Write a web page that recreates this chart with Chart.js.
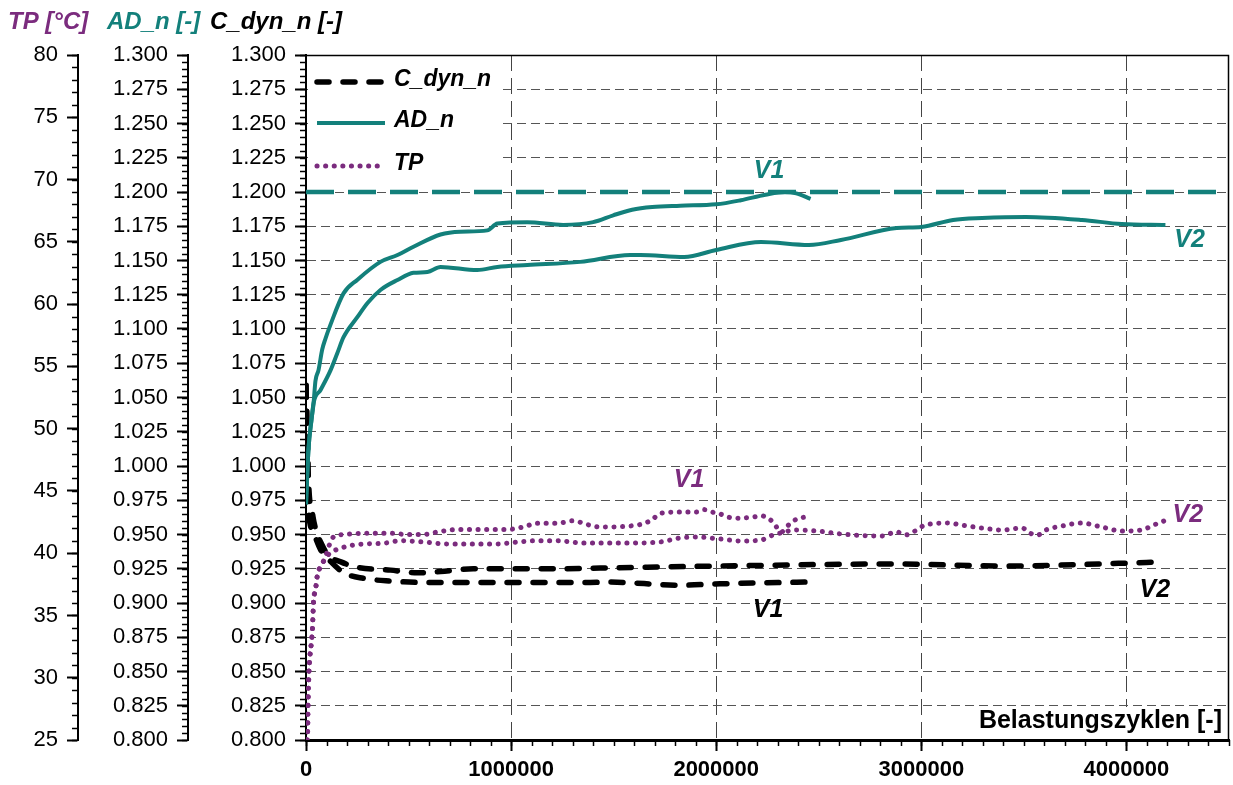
<!DOCTYPE html>
<html><head><meta charset="utf-8">
<script src="https://cdn.jsdelivr.net/npm/chart.js@4.4.1/dist/chart.umd.min.js"></script>
<style>html,body{margin:0;padding:0;background:#fff}#wrap{width:1233px;height:785px;position:relative}</style>
</head><body><div id="wrap"><canvas id="c" width="1233" height="785"></canvas></div>
<script>
const TEAL = '#13807b', PURPLE = '#7b2c7e', BLACK = '#000000';
const FONT = "'Liberation Sans', Arial, sans-serif";

// ---- data (x = Belastungszyklen) ----
const adV1X = [0, 12000, 27000, 37000, 46000, 61000, 79000, 95000, 119000, 183000, 251000, 363000, 446000, 524000, 656000, 753000, 884000, 933000, 1079000, 1254000, 1400000, 1498000, 1590000, 1688000, 1824000, 2000000, 2120000, 2240000, 2335000, 2390000, 2460000];
const adV1Y = [0.972, 1.012, 1.034, 1.046, 1.062, 1.070, 1.085, 1.093, 1.103, 1.126, 1.136, 1.149, 1.154, 1.160, 1.169, 1.171, 1.172, 1.177, 1.178, 1.176, 1.178, 1.183, 1.187, 1.189, 1.190, 1.191, 1.194, 1.198, 1.200, 1.199, 1.195];
const adV2X = [0, 12000, 27000, 37000, 71000, 120000, 153000, 183000, 251000, 300000, 363000, 446000, 524000, 592000, 656000, 835000, 933000, 1079000, 1337000, 1581000, 1630000, 1844000, 2000000, 2219000, 2452000, 2608000, 2880000, 3000000, 3155000, 3296000, 3510000, 3783000, 3977000, 4190000];
const adV2Y = [0.972, 1.012, 1.034, 1.046, 1.0555, 1.070, 1.0825, 1.094, 1.1088, 1.119, 1.1285, 1.1358, 1.141, 1.1416, 1.1453, 1.143, 1.1453, 1.1467, 1.149, 1.154, 1.154, 1.1526, 1.1577, 1.1635, 1.1613, 1.165, 1.1737, 1.1745, 1.1796, 1.181, 1.1818, 1.1796, 1.1766, 1.1759];
const adLimitX = [0, 4500000];
const adLimitY = [1.2, 1.2];

const cdV1X = [0, 7000, 12000, 32000, 71000, 122000, 185000, 280000, 412000, 572000, 816000, 1059000, 1386000, 1473000, 1824000, 2019000, 2452000];
const cdV1Y = [1.059, 1.012, 0.970, 0.953, 0.939, 0.930, 0.922, 0.918, 0.916, 0.915, 0.915, 0.915, 0.915, 0.9153, 0.913, 0.914, 0.9153];
const cdV2X = [0, 12000, 34000, 49000, 73000, 107000, 170000, 251000, 412000, 543000, 656000, 816000, 982000, 1225000, 1434000, 2019000, 2881000, 3393000, 3977000, 4157000];
const cdV2Y = [1.059, 0.990, 0.963, 0.953, 0.944, 0.935, 0.930, 0.926, 0.924, 0.922, 0.923, 0.925, 0.925, 0.925, 0.9255, 0.927, 0.9285, 0.927, 0.929, 0.930];

const tpV1X = [5000, 7000, 12000, 32000, 37000, 46000, 56000, 71000, 95000, 110000, 134000, 183000, 300000, 412000, 494000, 572000, 640000, 738000, 899000, 981000, 1059000, 1128000, 1225000, 1303000, 1371000, 1434000, 1630000, 1688000, 1727000, 1824000, 1902000, 1941000, 1980000, 2019000, 2058000, 2102000, 2180000, 2219000, 2277000, 2316000, 2355000, 2394000, 2433000];
const tpV1Y = [25.0, 25.2, 29.3, 34.1, 36.2, 37.0, 38.3, 38.9, 39.7, 40.5, 41.3, 41.5, 41.6, 41.6, 41.5, 41.5, 41.7, 41.9, 41.9, 41.9, 42.1, 42.4, 42.4, 42.6, 42.3, 42.1, 42.3, 42.7, 43.2, 43.3, 43.3, 43.5, 43.3, 43.15, 42.9, 42.8, 42.9, 43.0, 42.5, 41.7, 42.3, 42.75, 42.9];
const tpV2X = [5000, 7000, 12000, 32000, 37000, 46000, 56000, 71000, 107000, 170000, 251000, 380000, 460000, 572000, 689000, 816000, 933000, 1030000, 1128000, 1225000, 1352000, 1434000, 1590000, 1727000, 1824000, 1902000, 2019000, 2121000, 2219000, 2277000, 2335000, 2375000, 2491000, 2608000, 2803000, 2881000, 2920000, 2978000, 3018000, 3135000, 3193000, 3296000, 3393000, 3490000, 3539000, 3568000, 3607000, 3685000, 3782000, 3879000, 3977000, 4074000, 4133000, 4182000];
const tpV2Y = [25.0, 25.2, 29.3, 34.1, 36.2, 37.0, 38.3, 38.9, 39.85, 40.4, 40.7, 40.8, 41.0, 40.9, 40.74, 40.74, 40.74, 40.9, 41.0, 41.0, 40.82, 40.82, 40.82, 40.9, 41.22, 41.3, 41.14, 40.98, 41.06, 41.46, 41.7, 41.86, 41.78, 41.54, 41.38, 41.7, 41.46, 41.86, 42.26, 42.42, 42.26, 42.02, 41.86, 42.02, 41.54, 41.46, 41.86, 42.18, 42.42, 42.1, 41.78, 41.86, 42.26, 42.58];

// ---- ticks ----
const xTicks = [0, 1000000, 2000000, 3000000, 4000000];
const normTicks = [0.800, 0.825, 0.850, 0.875, 0.900, 0.925, 0.950, 0.975, 1.000, 1.025, 1.050, 1.075, 1.100, 1.125, 1.150, 1.175, 1.200, 1.225, 1.250, 1.275, 1.300];
const tpTicks = [25, 30, 35, 40, 45, 50, 55, 60, 65, 70, 75, 80];
const seriesNames = ['C_dyn_n', 'AD_n', 'TP'];
const curveNames = ['V1', 'V2'];
const axisTitles = ['TP [°C]', 'AD_n [-]', 'C_dyn_n [-]'];
const xTitle = 'Belastungszyklen [-]';

const zip = (xs, ys) => xs.map((x, i) => ({ x: x, y: ys[i] }));

const tpStyle = { borderColor: PURPLE, borderWidth: 5, borderDash: [0.1, 8.5], borderCapStyle: 'round' };
const adStyle = { borderColor: TEAL, borderWidth: 4 };
const cdStyle = { borderColor: BLACK, borderWidth: 5.5, borderDash: [12, 14], borderCapStyle: 'round' };

const datasets = [
  Object.assign({ label: 'AD_limit', data: zip(adLimitX, adLimitY), yAxisID: 'yA', borderColor: TEAL, borderWidth: 4.5, borderDash: [28, 14] }),
  Object.assign({ label: seriesNames[2] + ' ' + curveNames[0], data: zip(tpV1X, tpV1Y), yAxisID: 'yT' }, tpStyle),
  Object.assign({ label: seriesNames[2] + ' ' + curveNames[1], data: zip(tpV2X, tpV2Y), yAxisID: 'yT' }, tpStyle),
  Object.assign({ label: seriesNames[1] + ' ' + curveNames[0], data: zip(adV1X, adV1Y), yAxisID: 'yA' }, adStyle),
  Object.assign({ label: seriesNames[1] + ' ' + curveNames[1], data: zip(adV2X, adV2Y), yAxisID: 'yA' }, adStyle),
  Object.assign({ label: seriesNames[0] + ' ' + curveNames[0], data: zip(cdV1X, cdV1Y), yAxisID: 'yC' }, cdStyle),
  Object.assign({ label: seriesNames[0] + ' ' + curveNames[1], data: zip(cdV2X, cdV2Y), yAxisID: 'yC' }, cdStyle)
];
datasets.forEach(d => { d.pointRadius = 0; d.fill = false; d.cubicInterpolationMode = 'monotone'; });

const tickFont = { family: FONT, size: 22 };
function leftAxis(min, max, ticksArr, width, weight, grid, fmt) {
  return {
    type: 'linear', position: 'left', min: min, max: max, weight: weight,
    afterBuildTicks: s => { s.ticks = ticksArr.map(v => ({ value: v })); },
    afterFit: s => { s.width = width; },
    ticks: { font: tickFont, color: '#000', padding: 9, callback: fmt, autoSkip: false },
    grid: { drawOnChartArea: grid, color: '#555', lineWidth: 1, tickLength: 11, tickColor: '#000', tickWidth: 2 },
    border: { display: true, color: '#000', width: 2, dash: [9, 5] }
  };
}

const minorTicks = {
  id: 'minorTicks',
  afterDraw(chart) {
    const ctx = chart.ctx;
    ctx.save();
    ctx.strokeStyle = '#000';
    ctx.lineWidth = 1.5;
    const defs = [['yT', 1], ['yA', 0.005], ['yC', 0.005]];
    defs.forEach(([id, step]) => {
      const s = chart.scales[id];
      const n = Math.round((s.max - s.min) / step);
      for (let i = 0; i <= n; i++) {
        const y = Math.round(s.getPixelForValue(s.min + i * step)) + 0.5;
        ctx.beginPath(); ctx.moveTo(s.right - 6, y); ctx.lineTo(s.right, y); ctx.stroke();
      }
    });
    const sx = chart.scales.x;
    for (let v = 0; v <= sx.max; v += 100000) {
      const x = Math.round(sx.getPixelForValue(v)) + 0.5;
      ctx.beginPath(); ctx.moveTo(x, sx.top); ctx.lineTo(x, sx.top + 6); ctx.stroke();
    }
    ctx.restore();
  }
};

const boxes = {
  id: 'boxes',
  beforeDatasetsDraw(chart) {
    const ctx = chart.ctx, a = chart.chartArea;
    ctx.save();
    ctx.fillStyle = '#fff';
    ctx.fillRect(a.left + 2, a.top + 1, 194, 124);
    ctx.fillRect(a.right - 280, a.bottom - 33, 279, 31);
    ctx.restore();
  },
  afterDraw(chart) {
    const ctx = chart.ctx, a = chart.chartArea;
    ctx.save();
    // plot frame (top/right)
    ctx.strokeStyle = '#000'; ctx.lineWidth = 1.5;
    ctx.beginPath(); ctx.moveTo(a.left, a.top + 0.5); ctx.lineTo(a.right - 0.5, a.top + 0.5); ctx.lineTo(a.right - 0.5, a.bottom); ctx.stroke();
    // x-axis title inside plot
    ctx.fillStyle = '#000';
    ctx.font = 'bold 25px ' + FONT;
    ctx.textAlign = 'right'; ctx.textBaseline = 'alphabetic';
    ctx.fillText(xTitle, a.right - 7, a.bottom - 12);
    // axis titles
    ctx.font = 'italic bold 24px ' + FONT;
    ctx.textAlign = 'left';
    const tt = [['yT', PURPLE, 8], ['yA', TEAL, 29], ['yC', BLACK, 22]];
    tt.forEach(([id, col, dx], i) => {
      const s = chart.scales[id];
      ctx.fillStyle = col;
      ctx.fillText(axisTitles[i], s.left + dx, 29);
    });
    // legend
    const legendDs = [datasets[5], datasets[3], datasets[1]];
    const ly = [82, 123, 166];
    ctx.font = 'italic bold 23px ' + FONT;
    legendDs.forEach((d, i) => {
      ctx.save();
      ctx.strokeStyle = d.borderColor; ctx.lineWidth = d.borderWidth;
      ctx.setLineDash(d.borderDash || []);
      ctx.lineCap = d.borderCapStyle || 'butt';
      ctx.beginPath(); ctx.moveTo(a.left + 11, ly[i]); ctx.lineTo(a.left + 79, ly[i]); ctx.stroke();
      ctx.restore();
      ctx.fillStyle = '#000';
      ctx.fillText(seriesNames[i], a.left + 88, ly[i] + 4);
    });
    // curve labels
    ctx.font = 'italic bold 25px ' + FONT;
    ctx.textAlign = 'center'; ctx.textBaseline = 'middle';
    const labels = [
      [curveNames[0], 'yA', 2258000, 1.2161, TEAL],
      [curveNames[1], 'yA', 4308000, 1.1657, TEAL],
      [curveNames[0], 'yT', 1868000, 45.96, PURPLE],
      [curveNames[1], 'yT', 4299000, 43.15, PURPLE],
      [curveNames[0], 'yC', 2253000, 0.8956, BLACK],
      [curveNames[1], 'yC', 4138000, 0.9102, BLACK]
    ];
    labels.forEach(([t, id, xv, yv, col]) => {
      ctx.fillStyle = col;
      ctx.fillText(t, chart.scales.x.getPixelForValue(xv), chart.scales[id].getPixelForValue(yv) + 1);
    });
    ctx.restore();
  }
};

new Chart(document.getElementById('c'), {
  type: 'line',
  data: { datasets: datasets },
  options: {
    responsive: false, animation: false, devicePixelRatio: 1,
    layout: { padding: { top: 55, right: 4, left: 0, bottom: 0 } },
    plugins: { legend: { display: false }, tooltip: { enabled: false }, title: { display: false } },
    scales: {
      x: {
        type: 'linear', position: 'bottom', min: 0, max: 4500000,
        afterBuildTicks: s => { s.ticks = xTicks.map(v => ({ value: v })); },
        afterFit: s => { s.height = 45; },
        ticks: { font: { family: FONT, size: 22, weight: 'bold' }, color: '#000', padding: 6, maxRotation: 0, autoSkip: false, callback: v => String(v) },
        grid: { color: '#444', lineWidth: 1, tickLength: 11, tickColor: '#000', tickWidth: 2 },
        border: { display: true, color: '#000', width: 3, dash: [16, 7] }
      },
      yT: leftAxis(25, 80, tpTicks, 78, 3, false, v => String(v)),
      yA: leftAxis(0.8, 1.3, normTicks, 110, 2, false, v => v.toFixed(3)),
      yC: leftAxis(0.8, 1.3, normTicks, 118, 1, true, v => v.toFixed(3))
    }
  },
  plugins: [boxes, minorTicks]
});
</script>
</body></html>
